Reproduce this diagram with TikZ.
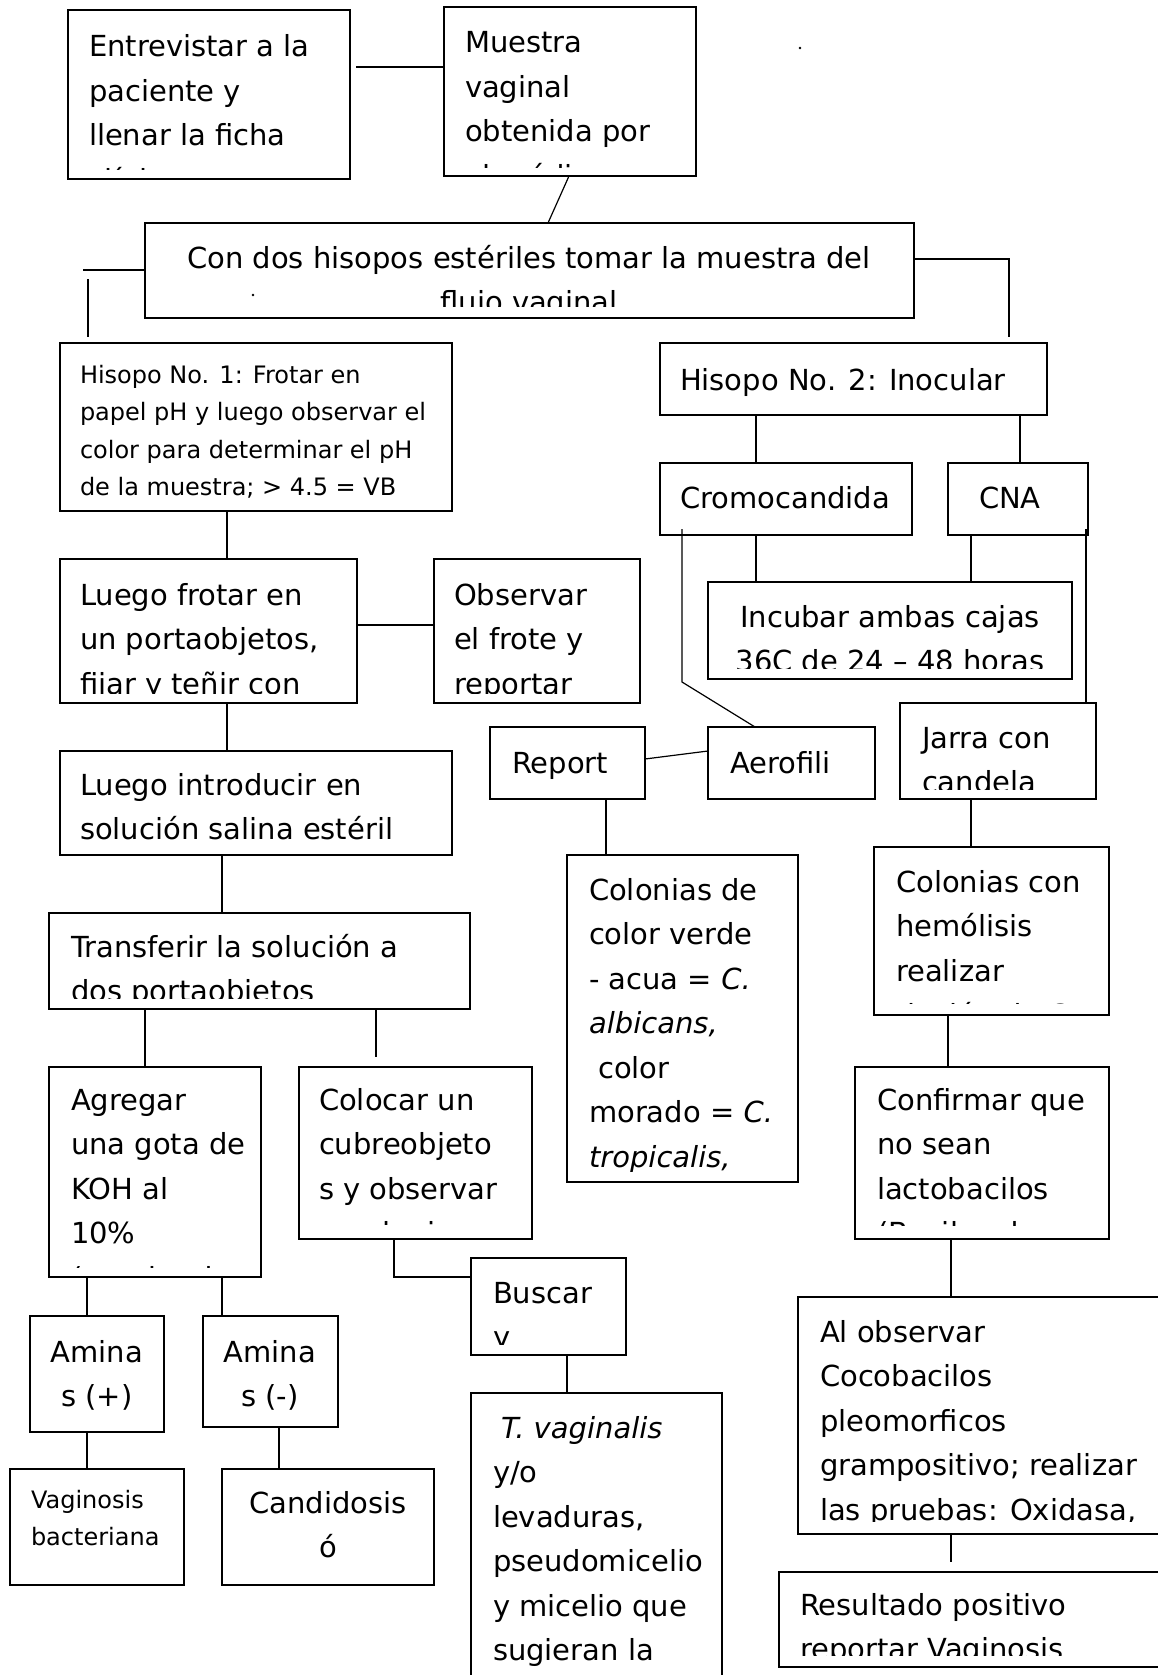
\documentclass[tikz,border=0pt]{standalone}
\usepackage{fontspec}
\setmainfont{DejaVu Sans}
\newcommand\Lt[1]{\vtop{\halign{##\hfil\cr#1\crcr}}}
\newcommand\Ct[1]{\vtop{\halign{\hfil##\hfil\cr#1\crcr}}}
\newcommand\sm{\fontsize{24}{37.5}\selectfont}
\tikzset{
  box/.style={draw, line width=1.8pt, inner sep=0pt, outer sep=0pt, fill=white},
  txt/.style={inner sep=0pt, outer sep=0pt, font=\fontsize{29}{44.5}\selectfont},
  conn/.style={line width=1.2pt}
}
% #1 anchor, #2 name, #3 x1, #4 y1, #5 x2, #6 y2, #7 clip bottom, #8 text position, #9 text
\newcommand\tbox[9][base west]{%
  \node[box, anchor=north west, minimum width={#5-#3}, minimum height={#6-#4}] (#2) at (#3,#4) {};
  \begin{scope}
    \clip (#3,#4) rectangle (#5,#7);
    \node[txt, anchor=#1] (#2t) at (#8) {#9};
  \end{scope}}
\begin{document}
\begin{tikzpicture}[x=1pt, y=-1pt]
\fill[white] (0,0) rectangle (1158,1675);
\useasboundingbox (0,0) rectangle (1158,1675);
\clip (0,0) rectangle (1158,1675);

\tbox{entrev}{68}{10}{350}{179}{169}{89,57}{\Lt{Entrevistar a la\cr paciente y\cr llenar la ficha\cr clínica}}
\tbox{muestra}{444}{7}{696}{176}{167}{465,53}{\Lt{Muestra\cr vaginal\cr obtenida por\cr el médico}}
\tbox[base]{condos}{145}{223}{914}{318}{306}{529,268}{\Ct{Con dos hisopos estériles tomar la muestra del\cr flujo vaginal}}
\tbox{hisA}{60}{343}{452}{511}{509}{80,383}{\sm\Lt{Hisopo No. 1: Frotar en\cr papel pH y luego observar el\cr color para determinar el pH\cr de la muestra; > 4.5 = VB}}
\tbox{hisB}{660}{343}{1047}{415}{413}{680,390}{Hisopo No. 2: Inocular}
\tbox{cromo}{660}{463}{912}{535}{533}{680,508}{Cromocandida}
\tbox{cna}{948}{463}{1088}{535}{533}{979,508}{CNA}
\tbox[base]{incub}{708}{582}{1072}{679}{668}{890,627}{\Ct{Incubar ambas cajas\cr 36C de 24 – 48 horas}}
\tbox{frotar}{60}{559}{357}{703}{693}{80,605}{\Lt{Luego frotar en\cr un portaobjetos,\cr fijar y teñir con}}
\tbox{observ}{434}{559}{640}{703}{693}{454,605}{\Lt{Observar\cr el frote y\cr reportar}}
\tbox{introd}{60}{751}{452}{855}{852}{80,795}{\Lt{Luego introducir en\cr solución salina estéril}}
\tbox{report}{490}{727}{645}{799}{797}{512,773}{Report}
\tbox{aerof}{708}{727}{875}{799}{797}{730,773}{Aerofili}
\tbox{jarra}{900}{703}{1096}{799}{789}{922,748}{\Lt{Jarra con\cr candela}}
\tbox{transf}{49}{913}{470}{1009}{998}{71,957}{\Lt{Transferir la solución a\cr dos portaobjetos}}
\tbox{colde}{567}{855}{798}{1182}{1171}{589,900}{\Lt{Colonias de\cr color verde\cr - acua = \textit{C.}\cr \textit{albicans,}\cr \ color\cr morado = \textit{C.}\cr \textit{tropicalis,}}}
\tbox{colcon}{874}{847}{1109}{1015}{1003}{896,892}{\Lt{Colonias con\cr hemólisis\cr realizar\cr tinción de Gram}}
\tbox{agreg}{49}{1067}{261}{1277}{1267}{71,1110}{\Lt{Agregar\cr una gota de\cr KOH al\cr 10\%\cr (prueba de}}
\tbox{coloc}{299}{1067}{532}{1239}{1224}{319,1110}{\Lt{Colocar un\cr cubreobjeto\cr s y observar\cr en el microscopio}}
\tbox{confir}{855}{1067}{1109}{1239}{1225}{877,1110}{\Lt{Confirmar que\cr no sean\cr lactobacilos\cr (Bacilos de}}
\tbox{buscar}{471}{1258}{626}{1355}{1344}{493,1303}{\Lt{Buscar\cr y}}
\tbox[base]{amP}{30}{1316}{164}{1432}{1430}{97,1362}{\Ct{Amina\cr s (+)}}
\tbox[base]{amN}{203}{1316}{338}{1427}{1425}{270,1362}{\Ct{Amina\cr s (-)}}
\tbox{vagin}{10}{1469}{184}{1585}{1583}{31,1508}{\sm\Lt{Vaginosis\cr bacteriana}}
\tbox[base]{candid}{222}{1469}{434}{1585}{1583}{328,1513}{\Ct{Candidosis\cr ó}}
\tbox{tvag}{471}{1393}{722}{1700}{1700}{493,1438}{\Lt{\hspace{8pt}\textit{T. vaginalis}\cr y/o\cr levaduras,\cr pseudomicelio\cr y micelio que\cr sugieran la}}
\tbox{alobs}{798}{1297}{1175}{1534}{1521}{820,1342}{\Lt{Al observar\cr Cocobacilos\cr pleomorficos\cr grampositivo; realizar\cr las pruebas: Oxidasa,}}
\tbox{result}{779}{1572}{1175}{1667}{1655}{800,1615}{\Lt{Resultado positivo\cr reportar Vaginosis}}

% free ends
\coordinate (e1) at (356,67);
\coordinate (e2a) at (83,270);
\coordinate (e2b) at (88,279);
\coordinate (e2c) at (88,337);
\coordinate (e3a) at (1009,259);
\coordinate (e3b) at (1009,337);
\coordinate (e4a) at (682,529);
\coordinate (e4b) at (682,682);
\coordinate (e5) at (1086,529);
\coordinate (e6) at (376,1057);
\coordinate (e7) at (394,1277);
\coordinate (e8) at (951,1562);

% connectors
\draw[conn] (e1) -- (muestra.west |- e1);
\draw[conn] (muestra.south -| 569,0) -- (condos.north -| 548,0);
\draw[conn] (e2a) -- (condos.west |- e2a);
\draw[conn] (e2b) -- (e2c);
\draw[conn] (condos.east |- e3a) -- (e3a) -- (e3b);
\draw[conn] (hisA.south -| 227,0) -- (frotar.north -| 227,0);
\draw[conn] (hisB.south -| 756,0) -- (cromo.north -| 756,0);
\draw[conn] (hisB.south -| 1020,0) -- (cna.north -| 1020,0);
\draw[conn] (cromo.south -| 756,0) -- (incub.north -| 756,0);
\draw[conn] (cna.south -| 971,0) -- (incub.north -| 971,0);
\draw[conn] (e4a) -- (e4b) -- (aerof.north -| 755,0);
\draw[conn] (e5) -- (jarra.north -| e5);
\draw[conn] (frotar.east |- 0,625) -- (observ.west |- 0,625);
\draw[conn] (frotar.south -| 227,0) -- (introd.north -| 227,0);
\draw[conn] (report.east |- 0,759) -- (aerof.west |- 0,751);
\draw[conn] (report.south -| 606,0) -- (colde.north -| 606,0);
\draw[conn] (jarra.south -| 971,0) -- (colcon.north -| 971,0);
\draw[conn] (introd.south -| 222,0) -- (transf.north -| 222,0);
\draw[conn] (transf.south -| 145,0) -- (agreg.north -| 145,0);
\draw[conn] (transf.south -| e6) -- (e6);
\draw[conn] (colcon.south -| 948,0) -- (confir.north -| 948,0);
\draw[conn] (coloc.south -| e7) -- (e7) -- (buscar.west |- e7);
\draw[conn] (agreg.south -| 87,0) -- (amP.north -| 87,0);
\draw[conn] (agreg.south -| 222,0) -- (amN.north -| 222,0);
\draw[conn] (amP.south -| 87,0) -- (vagin.north -| 87,0);
\draw[conn] (amN.south -| 279,0) -- (candid.north -| 279,0);
\draw[conn] (buscar.south -| 567,0) -- (tvag.north -| 567,0);
\draw[conn] (confir.south -| 951,0) -- (alobs.north -| 951,0);
\draw[conn] (alobs.south -| e8) -- (e8);

% small stray marks
\fill (800,48) circle (1.3pt);
\fill (253,295) circle (1.3pt);
\end{tikzpicture}
\end{document}
